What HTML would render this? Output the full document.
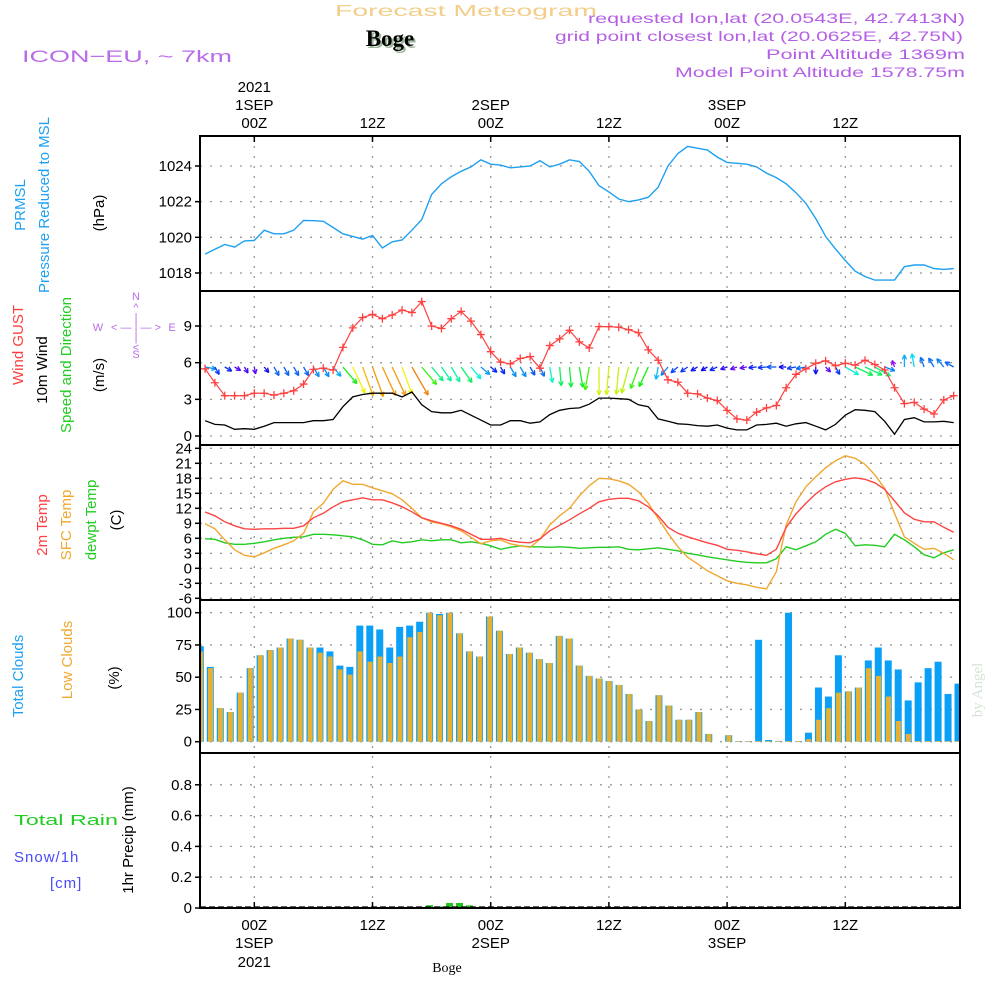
<!DOCTYPE html>
<html><head><meta charset="utf-8"><title>Forecast Meteogram - Boge</title>
<style>
html,body{margin:0;padding:0;background:#fff;}
svg{display:block;font-family:"Liberation Sans",sans-serif;}
.tk{font-size:15px;fill:#000;}
</style></head>
<body>
<svg id="chart" width="1000" height="1000" viewBox="0 0 1000 1000" xmlns="http://www.w3.org/2000/svg">
<rect x="0" y="0" width="1000" height="1000" fill="#fff"/>
<!-- header -->
<text x="335" y="16" font-size="16" fill="#f3cd8a" textLength="262" lengthAdjust="spacingAndGlyphs">Forecast Meteogram</text>
<text x="392" y="48" text-anchor="middle" font-size="23" font-weight="bold" fill="#9bb59b" font-family="Liberation Serif, serif">Boge</text>
<text x="390" y="46" text-anchor="middle" font-size="23" font-weight="bold" fill="#000" font-family="Liberation Serif, serif">Boge</text>
<text x="22" y="62" font-size="17" fill="#b96ce8" textLength="210" lengthAdjust="spacingAndGlyphs">ICON−EU, ~ 7km</text>
<g font-size="14" fill="#b45fe6">
<text x="588" y="23" textLength="377" lengthAdjust="spacingAndGlyphs">requested lon,lat (20.0543E, 42.7413N)</text>
<text x="555" y="41" textLength="408" lengthAdjust="spacingAndGlyphs">grid point closest lon,lat (20.0625E, 42.75N)</text>
<text x="766" y="59" textLength="199" lengthAdjust="spacingAndGlyphs">Point Altitude 1369m</text>
<text x="675" y="77" textLength="290" lengthAdjust="spacingAndGlyphs">Model Point Altitude 1578.75m</text>
</g>
<!-- left panel labels -->
<g font-size="15">
<text transform="translate(25,205) rotate(-90)" text-anchor="middle" fill="#1ea0f0">PRMSL</text>
<text transform="translate(49,205) rotate(-90)" text-anchor="middle" fill="#1ea0f0">Pressure Reduced to MSL</text>
<text transform="translate(104,213) rotate(-90)" text-anchor="middle" fill="#000">(hPa)</text>
</g>
<g font-size="15">
<text transform="translate(23,345) rotate(-90)" text-anchor="middle" fill="#ff4040">Wind GUST</text>
<text transform="translate(47,370) rotate(-90)" text-anchor="middle" fill="#000">10m Wind</text>
<text transform="translate(71,365) rotate(-90)" text-anchor="middle" fill="#22cc22">Speed and Direction</text>
<text transform="translate(104,375) rotate(-90)" text-anchor="middle" fill="#000">(m/s)</text>
</g>
<g font-size="11" fill="#b96ce8" text-anchor="middle">
<text x="136" y="300">N</text><text x="136" y="311">^</text><text x="136" y="321">|</text>
<text x="98" y="331">W</text><text x="136" y="331">&lt; — | — &gt;</text><text x="172" y="331">E</text>
<text x="136" y="341">|</text><text x="136" y="351">&lt;</text><text x="136" y="358">S</text>
</g>
<g font-size="15">
<text transform="translate(47,525) rotate(-90)" text-anchor="middle" fill="#ff4040">2m Temp</text>
<text transform="translate(71,525) rotate(-90)" text-anchor="middle" fill="#f0a830">SFC Temp</text>
<text transform="translate(96,520) rotate(-90)" text-anchor="middle" fill="#22cc22">dewpt Temp</text>
<text transform="translate(121,520) rotate(-90)" text-anchor="middle" fill="#000">(C)</text>
</g>
<g font-size="15">
<text transform="translate(23,676) rotate(-90)" text-anchor="middle" fill="#1ea0f0">Total Clouds</text>
<text transform="translate(72,660) rotate(-90)" text-anchor="middle" fill="#f0a830">Low Clouds</text>
<text transform="translate(119,678) rotate(-90)" text-anchor="middle" fill="#000">(%)</text>
</g>
<g font-size="15">
<text x="14" y="825" fill="#22cc22" textLength="104" lengthAdjust="spacingAndGlyphs">Total  Rain</text>
<text x="14" y="862" fill="#4a4aff" style="letter-spacing:1px">Snow/1h</text>
<text x="50" y="888" fill="#4a4aff" style="letter-spacing:1px">[cm]</text>
<text transform="translate(133,840) rotate(-90)" text-anchor="middle" fill="#000">1hr Precip (mm)</text>
</g>
<text transform="translate(982,690) rotate(-90)" text-anchor="middle" font-size="15" fill="#d6e4d6" font-family="Liberation Serif, serif">by Angel</text>
<text x="447" y="972" text-anchor="middle" font-size="14" fill="#000" font-family="Liberation Serif, serif">Boge</text>
<g id="plot"></g>
</svg>
<script>
// ---- data (hours from 2021-09-01 00Z) ----
const hours = [-5,-4,-3,-2,-1,0,1,2,3,4,5,6,7,8,9,10,11,12,13,14,15,16,17,18,19,20,21,22,23,24,25,26,27,28,29,30,31,32,33,34,35,36,37,38,39,40,41,42,43,44,45,46,47,48,49,50,51,52,53,54,55,56,57,58,59,60,61,62,63,64,65,66,67,68,69,70,71];
const pressure = [1019.06,1019.33,1019.6,1019.45,1019.8,1019.83,1020.4,1020.2,1020.2,1020.4,1020.95,1020.93,1020.9,1020.55,1020.2,1020.05,1019.9,1020.1,1019.4,1019.75,1019.85,1020.4,1021.0,1022.4,1023.0,1023.4,1023.7,1023.95,1024.35,1024.1,1024.05,1023.9,1023.95,1024.0,1024.3,1023.95,1024.1,1024.35,1024.25,1023.7,1022.9,1022.55,1022.15,1022.0,1022.1,1022.25,1022.8,1024.0,1024.7,1025.1,1025.0,1024.9,1024.5,1024.2,1024.15,1024.1,1023.95,1023.6,1023.35,1023.0,1022.5,1021.9,1021.05,1020.05,1019.35,1018.7,1018.1,1017.8,1017.6,1017.6,1017.6,1018.35,1018.45,1018.45,1018.25,1018.2,1018.25];
const gust = [5.5,4.36,3.3,3.3,3.3,3.5,3.5,3.35,3.5,3.7,4.25,5.45,5.55,5.4,7.25,8.85,9.7,9.95,9.6,9.9,10.3,10.1,11.0,9.0,8.8,9.6,10.2,9.4,8.3,6.9,6.05,5.9,6.35,6.5,5.55,7.4,7.95,8.65,7.7,7.2,8.95,8.95,8.9,8.7,8.45,7.05,6.2,4.6,4.4,3.5,3.45,3.1,2.9,2.1,1.4,1.3,1.95,2.3,2.5,3.95,5.05,5.5,5.95,6.15,5.75,5.95,5.8,6.2,5.85,5.4,3.95,2.65,2.75,2.2,1.8,2.95,3.3];
const wind10m = [1.25,0.95,0.9,0.55,0.6,0.55,0.8,1.1,1.1,1.1,1.1,1.25,1.25,1.35,2.4,3.2,3.4,3.5,3.5,3.5,3.2,3.6,2.55,2.0,1.9,1.9,2.1,1.7,1.3,0.9,0.9,1.25,1.25,1.05,1.15,1.75,2.1,2.25,2.3,2.6,3.1,3.1,3.05,3.0,2.55,2.4,1.4,1.2,1.0,0.95,0.85,0.8,0.9,0.65,0.5,0.5,0.9,0.95,1.05,0.8,1.0,1.1,0.8,0.5,0.95,1.7,2.15,2.1,2.0,1.2,0.15,1.35,1.5,1.15,1.15,1.2,1.1];
const windDir = [100,150,120,120,150,170,140,150,150,150,150,150,150,140,140,155,160,160,155,155,160,150,140,140,145,150,145,140,130,130,150,150,150,150,155,170,175,175,170,190,180,185,185,195,200,205,190,220,230,235,240,240,245,250,250,260,265,265,270,270,260,260,180,135,150,120,115,115,120,110,340,0,350,340,330,320,300];
const temp2m = [11.26,10.5,9.3,8.5,7.9,7.8,7.9,7.9,8.0,8.0,8.5,10.1,11.0,12.3,13.3,13.7,14.1,13.7,13.7,13.1,12.3,11.3,10.1,9.5,9.0,8.5,7.8,6.8,5.8,5.8,6.0,5.5,5.2,5.1,5.9,7.5,8.6,9.7,10.9,12.0,13.3,13.8,14.0,14.0,13.5,12.3,10.5,8.2,7.0,6.3,5.7,5.1,4.6,3.8,3.6,3.3,2.9,2.6,3.8,8.2,10.9,13.0,14.9,16.3,17.3,17.8,18.1,17.8,17.1,15.8,13.5,11.1,9.8,9.3,9.3,8.2,7.2];
const tempSfc = [8.9,7.9,5.7,3.7,2.6,2.3,3.1,4.0,4.7,5.5,7.0,11.3,13.0,15.8,17.5,16.8,16.8,16.1,15.5,14.9,13.7,12.0,10.1,9.3,8.9,8.3,7.5,6.2,4.9,5.5,5.7,4.9,4.5,4.2,5.8,8.7,10.5,12.0,14.5,16.5,18.0,17.9,17.5,16.8,15.3,13.0,10.0,7.0,4.3,2.2,0.9,-0.5,-1.5,-2.5,-3.0,-3.3,-3.8,-4.1,-0.7,8.7,13.3,16.3,18.3,20.1,21.5,22.5,22.0,20.8,18.7,16.0,11.0,6.3,5.0,3.8,4.0,3.0,1.7];
const dewpt = [5.9,5.8,5.1,4.8,4.8,5.0,5.3,5.7,6.0,6.2,6.3,6.8,6.8,6.7,6.5,6.3,5.7,4.8,4.7,5.5,5.1,5.3,5.7,5.5,5.7,5.7,5.1,5.3,5.0,4.5,3.8,4.2,4.5,4.3,4.3,4.2,4.3,4.2,4.0,4.1,4.2,4.2,4.3,3.8,3.7,3.9,4.1,3.8,3.5,3.0,2.7,2.3,2.0,1.7,1.4,1.2,1.1,1.1,1.9,4.3,3.7,4.5,5.3,6.8,7.8,7.0,4.5,4.7,4.6,4.3,6.8,5.7,4.3,2.7,2.1,3.1,3.7];
const totalClouds = [74,58,26,23,38,57,67,71,73,80,79,73,73,70,59,58,90,90,87,73,89,90,93,100,99,100,84,70,66,97,86,68,73,69,64,61,82,80,59,51,49,47,44,37,25,16,36,28,17,17,23,6,0,5,0.5,0.5,79,1.3,0.5,100,0.5,7,42,35,67,39,42,63,73,63,56,32,46,57,62,37,45];
const lowClouds = [70,57,26,23,38,57,67,71,73,80,79,73,69,66,56,52,70,62,66,61,66,81,85,100,98,100,84,70,66,97,86,68,73,69,64,61,82,80,59,51,49,47,44,37,25,16,36,28,17,17,23,6,0,5,0.5,0.5,0.5,0.5,0.5,0.5,0.5,2,17,26,38,39,42,57,51,35,16,6,0.5,0.5,0.5,0.5,0.5];
const precip = [0,0,0,0,0,0,0,0,0.003,0.007,0.003,0.003,0,0,0,0,0,0,0,0,0,0,0.003,0.018,0.01,0.033,0.033,0.017,0,0,0,0,0,0,0,0,0,0,0,0,0,0,0,0,0,0,0,0,0,0,0,0,0,0,0,0,0,0,0,0,0,0,0,0,0,0,0,0,0,0,0,0,0,0,0,0,0];
const pTicks = [1018,1020,1022,1024];
const wTicks = [0,3,6,9];
const tTicks = [-6,-3,0,3,6,9,12,15,18,21,24];
const cTicks = [0,25,50,75,100];
const rTicks = [0,0.2,0.4,0.6,0.8];
const timeTicks = [0,12,24,36,48,60];
const timeLabels = ["00Z","12Z","00Z","12Z","00Z","12Z"];
const dayLabels = ["1SEP","","2SEP","","3SEP",""];

// ---- axes ----
const L = 200, R = 960;
const X = h => 254.3 + 9.85 * h;
const Yp = v => 166 - (v - 1024) * 17.83;
const Yw = v => 436 - v * 12.22;
const Yt = v => 568.3 - v * 5;
const Yc = v => 741.7 - v * 1.29;
const Yr = v => 908 - v * 154;
const barX = i => 200.3 + i * 9.97;
const panels = [[136,291],[291,445],[445,600],[600,753],[753,908]];

const NS = "http://www.w3.org/2000/svg";
const plot = document.getElementById('plot');
function mk(tag, attrs, parent) {
  const e = document.createElementNS(NS, tag);
  for (const k in attrs) e.setAttribute(k, attrs[k]);
  (parent || plot).appendChild(e);
  return e;
}
function clipFor(i) {
  const cp = mk('clipPath', {id: 'cp' + i});
  mk('rect', {x: L, y: panels[i][0], width: R - L, height: panels[i][1] - panels[i][0]}, cp);
}
for (let i = 0; i < 5; i++) clipFor(i);

function hgrid(ticks, Y, fmt, name) {
  ticks.forEach(t => {
    const y = Y(t);
    const g = mk('line', {x1: L, x2: R, y1: y, y2: y, stroke: '#999', 'stroke-width': 1.3, 'stroke-dasharray': '2,8'});
    
    
    mk('line', {x1: L - 5, x2: L, y1: y, y2: y, stroke: '#000', 'stroke-width': 1.5});
    const tx = mk('text', {x: L - 8, y: y + 5, 'text-anchor': 'end', class: 'tk'});
    tx.textContent = fmt(t);
    
    
  });
}
hgrid(pTicks, Yp, t => t, 'pressure');
hgrid(wTicks, Yw, t => t, 'wind');
hgrid(tTicks, Yt, t => t, 'temp');
hgrid(cTicks, Yc, t => t, 'cloud');
hgrid(rTicks, Yr, t => t === 0 ? '0' : t.toFixed(1), 'precip');

timeTicks.forEach((h, i) => {
  const x = X(h);
  const v = mk('line', {x1: x, x2: x, y1: 136, y2: 908, stroke: '#999', 'stroke-width': 1.3, 'stroke-dasharray': '2,8'});
  
  
  mk('line', {x1: x, x2: x, y1: 136, y2: 142, stroke: '#000', 'stroke-width': 1.5});
  mk('line', {x1: x, x2: x, y1: 902, y2: 908, stroke: '#000', 'stroke-width': 1.5});
  const t1 = mk('text', {x: x, y: 128, 'text-anchor': 'middle', class: 'tk'});
  t1.textContent = timeLabels[i];
  
  
  if (dayLabels[i]) {
    const t2 = mk('text', {x: x, y: 110, 'text-anchor': 'middle', class: 'tk'});
    t2.textContent = dayLabels[i];
    
    
    const b2 = mk('text', {x: x, y: 948, 'text-anchor': 'middle', class: 'tk'});
    b2.textContent = dayLabels[i];
    
    
  }
  const b1 = mk('text', {x: x, y: 930, 'text-anchor': 'middle', class: 'tk'});
  b1.textContent = timeLabels[i];
  
  
});
const yr1 = mk('text', {x: X(0), y: 92, 'text-anchor': 'middle', class: 'tk'});
yr1.textContent = '2021';


const yr2 = mk('text', {x: X(0), y: 967, 'text-anchor': 'middle', class: 'tk'});
yr2.textContent = '2021';



function line(vals, Y, color, name, ci, w) {
  const d = vals.map((v, i) => (i ? 'L' : 'M') + X(hours[i]).toFixed(1) + ',' + Y(v).toFixed(1)).join('');
  const p = mk('path', {d: d, fill: 'none', stroke: color, 'stroke-width': w || 1.4, 'clip-path': 'url(#cp' + ci + ')'});
  
  
  return p;
}
line(pressure, Yp, '#1ea0f0', 'pressure-line', 0);

function windColor(s) { const hue = Math.max(25, Math.min(275, 300 - 75 * s)); return 'hsl(' + hue + ',90%,50%)'; }
windDir.forEach((d, i) => {
  const s = wind10m[i];
  const len = Math.max(7, 9 * s);
  const x0 = X(hours[i]), y0 = 367;
  const a = d * Math.PI / 180;
  const x1 = x0 + len * Math.sin(a), y1 = y0 - len * Math.cos(a);
  const c = windColor(s);
  const g = mk('g', {stroke: c, 'stroke-width': 1.3, fill: 'none', 'clip-path': 'url(#cp1)'});
  
  
  mk('line', {x1: x0, y1: y0, x2: x1, y2: y1}, g);
  const hl = 5;
  [a + Math.PI - 0.45, a + Math.PI + 0.45].forEach(b => {
    mk('line', {x1: x1, y1: y1, x2: x1 + hl * Math.sin(b), y2: y1 - hl * Math.cos(b)}, g);
  });
});
line(wind10m, Yw, '#000', 'wind-10m-line', 1, 1.3);
line(gust, Yw, '#ff4040', 'gust-line', 1, 1.2);
gust.forEach((v, i) => {
  const x = X(hours[i]), y = Yw(v);
  const m = mk('path', {d: 'M' + (x - 4) + ',' + y + 'H' + (x + 4) + 'M' + x + ',' + (y - 4) + 'V' + (y + 4), stroke: '#ff4040', 'stroke-width': 1.3, 'clip-path': 'url(#cp1)'});
  
  
});
line(dewpt, Yt, '#22cc22', 'dewpoint-line', 2);
line(tempSfc, Yt, '#f0a830', 'sfc-temp-line', 2);
line(temp2m, Yt, '#ff4444', 'temp-2m-line', 2);

totalClouds.forEach((v, i) => {
  const x = barX(i);
  const b = mk('rect', {x: x - 3.5, y: Yc(v), width: 7, height: Yc(0) - Yc(v), fill: '#0aa0f8', 'clip-path': 'url(#cp3)'});
  
  
  const lv = lowClouds[i];
  const o = mk('rect', {x: x - 2.3, y: Yc(lv), width: 5, height: Yc(0) - Yc(lv), fill: '#e8b030', 'clip-path': 'url(#cp3)'});
  
  
});
precip.forEach((v, i) => {
  if (v <= 0) return;
  const x = barX(i);
  const b = mk('rect', {x: x - 3.5, y: Yr(v), width: 7, height: Yr(0) - Yr(v), fill: '#22c422', 'clip-path': 'url(#cp4)'});
  
  
});
const zl = mk('line', {x1: L, x2: R, y1: 907, y2: 907, stroke: '#000', 'stroke-width': 1.2, 'stroke-dasharray': '6,3'});



panels.forEach((p, i) => {
  const f = mk('rect', {x: L, y: p[0], width: R - L, height: p[1] - p[0], fill: 'none', stroke: '#000', 'stroke-width': 2});
  
  
});
</script>
</body></html>
